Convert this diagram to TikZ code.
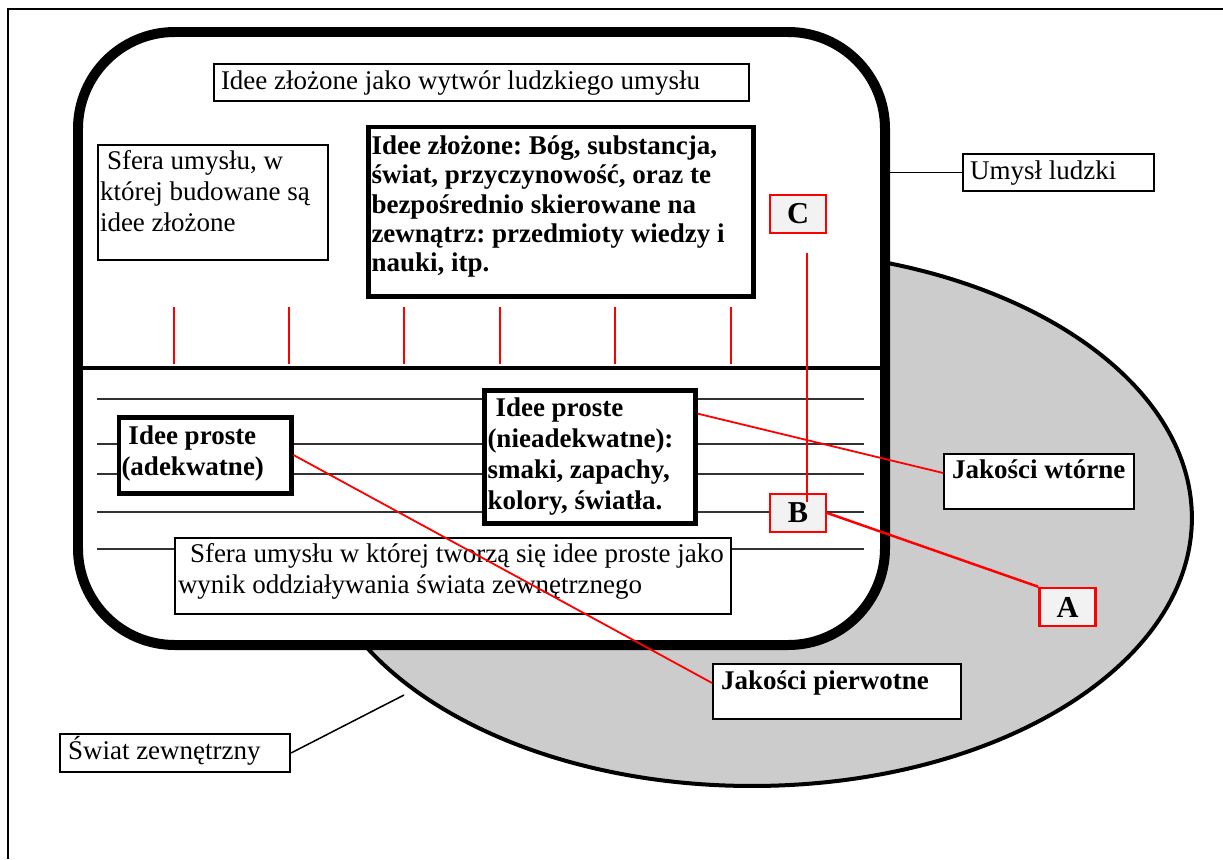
\documentclass[tikz,border=0pt]{standalone}
\usepackage{fontspec}
\setmainfont{Liberation Serif}
\frenchspacing
\newdimen\px \px=0.44444pt
% width, height, left pad, first-baseline offset, content
\newcommand{\bxt}[5]{\parbox[c][#2\px][t]{#1\px}{\raggedright\frenchspacing\leftskip=#3\px\relax\rule{0pt}{#4\px}#5}}
\definecolor{ellgray}{HTML}{CCCCCC}
\definecolor{letgray}{HTML}{F2F2F2}
\tikzset{
  box/.style={draw, fill=white, inner sep=0pt, anchor=north west, line width=0.89pt},
  thickbox/.style={box, line width=2.22pt},
  letter/.style={draw=red, fill=letgray, line width=1.11pt, inner sep=0pt,
    minimum width=24.9pt, minimum height=16.9pt, font=\fontsize{13.5pt}{15pt}\selectfont\bfseries},
  redline/.style={red, line width=0.8pt},
  redthick/.style={red, line width=1.1pt},
  blackline/.style={black, line width=0.67pt},
  tick/.style={red, line width=0.67pt},
  hline/.style={black!80, line width=0.67pt}
}
\begin{document}
\begin{tikzpicture}[x=0.44444pt, y=-0.44444pt, font=\fontsize{12pt}{13.78pt}\selectfont]
\useasboundingbox (0,0) rectangle (1223,859);
% page frame (cropped)
\draw[line width=0.9pt] (8,859) -- (8,9) -- (1223,9);
% external world
\draw[fill=ellgray, line width=1.78pt] (752,518) ellipse [x radius=195.5pt, y radius=119.1pt];
\coordinate (ez) at (404,695);
% human mind
\node[draw, fill=white, line width=4.44pt, rounded corners=43pt, inner sep=0pt,
  minimum width=358.67pt, minimum height=272.44pt] (mind) at (481.5,338.5) {};
\draw[line width=1.78pt] (78,368) -- (885,368);
\foreach \x in {174,289,404,500,615,731} \draw[tick] (\x,307) -- (\x,364);
\foreach \y in {399,444,474,512,549} \draw[hline] (97,\y) -- (864,\y);
% boxes
\node[box] (T1) at (213,63) {\bxt{535}{37}{7}{25}{Idee złożone jako wytwór ludzkiego umysłu}};
\node[box] (S1) at (97,144) {\bxt{230}{115}{2}{24}{\hspace*{7\px}Sfera umysłu, w\\ której budowane są\\ idee złożone}};
\node[thickbox] (B1) at (365.5,124.5) {\bxt{385}{169}{3.5}{27.5}{\bfseries\baselineskip=29.3\px Idee złożone: Bóg, substancja,\\ świat, przyczynowość, oraz te\\ bezpośrednio skierowane na\\ zewnątrz: przedmioty wiedzy i\\ nauki, itp.}};
\node[thickbox] (L1) at (116.5,414.5) {\bxt{172}{76}{2.5}{27.5}{\bfseries\baselineskip=31\px\hspace*{7\px}Idee proste\\ (adekwatne)}};
\node[thickbox] (L2) at (481.5,387.5) {\bxt{211}{133}{3.5}{26.5}{\bfseries\baselineskip=31\px\hspace*{8\px}Idee proste\\ (nieadekwatne):\\ smaki, zapachy,\\ kolory, światła.}};
\node[box] (L3) at (174,537) {\bxt{556}{76}{3}{24}{\baselineskip=31\px\hspace*{12\px}Sfera umysłu w której tworzą się idee proste jako\\ wynik oddziaływania świata zewnętrznego}};
\node[box] (UL) at (962,153) {\bxt{191}{37}{7}{25}{Umysł ludzki}};
\node[box] (JW) at (943,453) {\bxt{190}{55}{8}{24}{\bfseries Jakości wtórne}};
\node[box] (JP) at (712,663) {\bxt{248}{55}{8}{25}{\bfseries Jakości pierwotne}};
\node[box] (SZ) at (59,733) {\bxt{230}{38}{8}{25}{Świat zewnętrzny}};
% letters
\node[letter] (C) at (798,214) {C};
\node[letter] (B) at (798,513) {B};
\node[letter] (A) at (1067.5,607) {A};
% connectors
\draw[blackline] (mind.east |- UL.west) -- (UL.west);
\draw[blackline] (SZ.east) -- (ez);
\draw[redline] (L1.east) -- ([yshift=3.8pt]JP.west);
\draw[redline] ([yshift=-11.6pt]L2.north east) -- ([yshift=3.8pt]JW.west);
\draw[redthick] ([xshift=4pt,yshift=-8.4pt]C.south) -- ([xshift=4pt,yshift=-4pt]B.north);
\draw[redthick] (B.east) -- (A.north west);
\end{tikzpicture}
\end{document}
